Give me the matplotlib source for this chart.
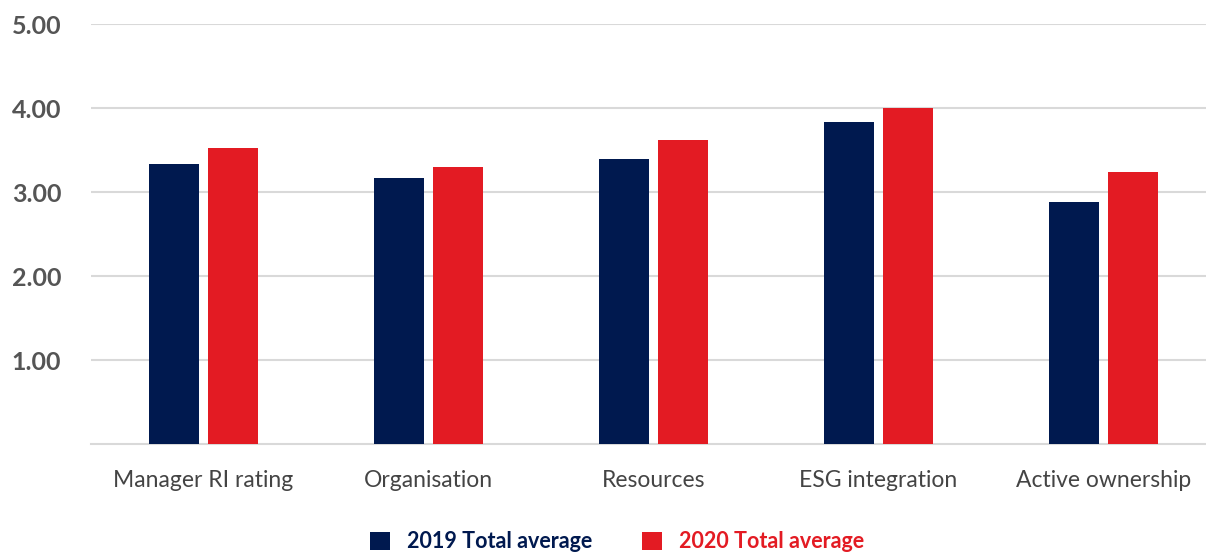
import matplotlib
matplotlib.use("Agg")
import matplotlib.pyplot as plt
import numpy as np

categories = ["Manager RI rating", "Organisation", "Resources", "ESG integration", "Active ownership"]
avg_2019 = [3.33, 3.17, 3.39, 3.83, 2.88]
avg_2020 = [3.52, 3.30, 3.62, 4.00, 3.24]
series_labels = ["2019 Total average", "2020 Total average"]
yticks = [1, 2, 3, 4, 5]
ytick_labels = ["1.00", "2.00", "3.00", "4.00", "5.00"]

NAVY = "#00194f"
RED = "#e31b23"

fig = plt.figure(figsize=(12.06, 5.56), dpi=100)
ax = fig.add_axes([91/1206, 112/556, 1 - 91/1206, 420/556])

x = np.arange(len(categories))
w = 0.225
off = 0.131
b1 = ax.bar(x - off, avg_2019, width=w, color=NAVY, label=series_labels[0], zorder=3)
b2 = ax.bar(x + off, avg_2020, width=w, color=RED, label=series_labels[1], zorder=3)

ax.set_xlim(-0.5, 4.456)
ax.set_ylim(0, 5)
ax.set_yticks(yticks)
ax.set_yticklabels(ytick_labels)
ax.set_xticks(x)
ax.set_xticklabels(categories)

for s in ["top", "right", "left"]:
    ax.spines[s].set_visible(False)
ax.spines["bottom"].set_color("#d9d9d9")
ax.spines["bottom"].set_linewidth(1.5)
ax.yaxis.grid(True, color="#d9d9d9", linewidth=1.5, zorder=0)
ax.set_axisbelow(True)

ax.tick_params(axis="both", length=0)
ax.tick_params(axis="y", pad=57, labelsize=18, labelcolor="#555555")
ax.tick_params(axis="x", pad=19, labelsize=16.5, labelcolor="#444444")
for lab in ax.get_yticklabels():
    lab.set_ha("left")
    lab.set_va("center_baseline")
    lab.set_fontfamily("Lato")
    lab.set_fontweight("bold")
for lab in ax.get_xticklabels():
    lab.set_fontfamily("Lato")

leg = fig.legend(handles=[b1, b2], labels=series_labels, loc="center",
                 bbox_to_anchor=(617/1206, 1 - 542/556), ncol=2, frameon=False,
                 handlelength=0.93, handleheight=0.93, handletextpad=0.79,
                 columnspacing=2.3, borderpad=0.0,
                 prop={"family": "Lato", "weight": "bold", "size": 15.5})
for t, c in zip(leg.get_texts(), [NAVY, RED]):
    t.set_color(c)

fig.savefig("out.png", dpi=100)
